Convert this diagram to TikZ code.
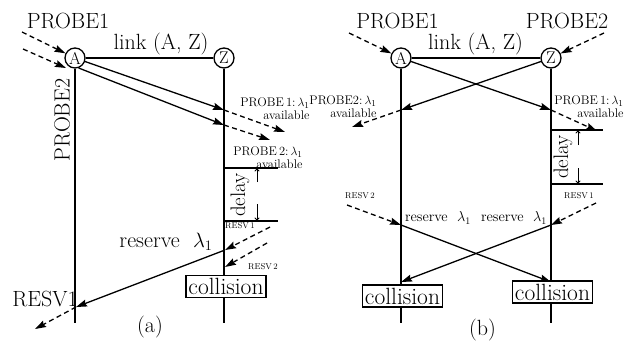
\documentclass[tikz,border=0pt]{standalone}
\usetikzlibrary{arrows.meta}
\begin{document}
\begin{tikzpicture}[x=1pt,y=-1pt,
  ln/.style={line width=1.3pt},
  arr/.style={ln,-{Stealth[length=11pt,width=7pt,inset=1.5pt]}},
  darr/.style={arr,dash pattern=on 5pt off 3.5pt},
  dly/.style={line width=0.9pt,-{To[length=3pt,width=5pt]}},
  stn/.style={circle,draw,line width=1.3pt,minimum size=20pt,inner sep=0pt,fill=white,font=\fontsize{17}{17}\selectfont},
  big/.style={inner sep=0pt,font=\fontsize{22}{24}\selectfont},
  mid/.style={inner sep=0pt,font=\fontsize{14.5}{16}\selectfont},
  sml/.style={inner sep=0pt,align=right,font=\fontsize{12.5}{13}\selectfont},
  tiny/.style={inner sep=0pt,font=\fontsize{8.5}{9}\selectfont},
  colbox/.style={draw,line width=1.3pt,fill=white,inner sep=0pt,minimum height=22pt,text depth=0pt,font=\fontsize{23.5}{25}\selectfont,text width=80pt,align=center},
  dlytxt/.style={inner sep=0pt,rotate=90,font=\fontsize{21}{23}\selectfont}
]
\useasboundingbox (0,0) rectangle (628,341);

% ================= panel (a) =================
\node[stn] (A) at (75,58) {A};
\node[stn] (Z) at (224,58) {Z};
\coordinate (Ab) at (75,323);
\coordinate (Zb) at (224,323);
\draw[ln] (A) -- (Z);
\draw[ln] (A) -- (Ab);
\draw[ln] (Z) -- (Zb);

\node[big] (p1a) at (68,21) {PROBE1};
\node[big,anchor=base] (lka) at (161,49) {link (A, Z)};
\node[big,rotate=90] (p2a) at (62,120) {PROBE2};

\coordinate (ia1) at (22,32);
\coordinate (ia2) at (23,49);
\coordinate (ia2e) at (66,68);
\draw[darr] (ia1) -- (A);
\draw[darr] (ia2) -- (ia2e);

\coordinate (za1) at (224,110);
\coordinate (za1e) at (285,132);
\coordinate (za2) at (224,125);
\coordinate (za2e) at (270,140);
\draw[arr] (A) -- (za1);
\draw[darr] (za1) -- (za1e);
\draw[arr] (A.-70) -- (za2);
\draw[darr] (za2) -- (za2e);

\node[sml] (pa1) at (275,109) {PROBE\,1:\,$\lambda_1$\\available};
\node[sml] (pa2) at (268,158) {PROBE\,2:\,$\lambda_1$\\available};

% delay (a)
\coordinate (da1) at (224,168);
\coordinate (da1e) at (278,168);
\coordinate (da2) at (224,221);
\coordinate (da2e) at (278,221);
\draw[ln] (da1) -- (da1e);
\draw[ln] (da2) -- (da2e);
\coordinate (dau1) at (257,182);
\coordinate (dau2) at (257,168.5);
\coordinate (dad1) at (257,204);
\coordinate (dad2) at (257,220.5);
\draw[dly] (dau1) -- (dau2);
\draw[dly] (dad1) -- (dad2);
\node[dlytxt] (dta) at (240,195) {delay};
\node[tiny] (ra1) at (240,226) {RESV\,1};

% reserve (a)
\coordinate (rs1) at (270,227);
\coordinate (rz1) at (225,250);
\coordinate (ra) at (76,307);
\coordinate (rae) at (35,329);
\draw[darr] (rs1) -- (rz1);
\draw[arr] (rz1) -- (ra);
\draw[darr] (ra) -- (rae);
\coordinate (rs2) at (267,243);
\coordinate (rz2) at (225,267);
\draw[darr] (rs2) -- (rz2);
\node[tiny] (ra2) at (263,267) {RESV\,2};
\node[big] (rva) at (166,242) {reserve\ \ $\lambda_1$};
\node[colbox] (cola) at (226,286.5) {collision};
\node[big] (rsv1) at (45,298.5) {RESV1};
\node[big] (capa) at (150,327) {(a)};

% ================= panel (b) =================
\node[stn] (A2) at (401,58) {A};
\node[stn] (Z2) at (551,58) {Z};
\coordinate (A2b) at (401,323);
\coordinate (Z2b) at (551,323);
\draw[ln] (A2) -- (Z2);
\draw[ln] (A2) -- (A2b);
\draw[ln] (Z2) -- (Z2b);

\node[big] (p1b) at (397.5,21) {PROBE1};
\node[big] (p2b) at (567,21) {PROBE2};
\node[big,anchor=base] (lkb) at (475.5,49) {link (A, Z)};

\coordinate (ib1) at (349,33);
\coordinate (ib2) at (604,33);
\draw[darr] (ib1) -- (A2);
\draw[darr] (ib2) -- (Z2);

\coordinate (zb1) at (551,110);
\coordinate (zb1e) at (597,131);
\coordinate (ab1) at (401,110);
\coordinate (ab1e) at (352,127);
\draw[arr] (A2) -- (zb1);
\draw[darr] (zb1) -- (zb1e);
\draw[arr] (Z2) -- (ab1);
\draw[darr] (ab1) -- (ab1e);

\node[sml] (pb2) at (343,107) {PROBE2:\,$\lambda_1$\\available};
\node[sml] (pb1) at (589,107) {PROBE\,1:\,$\lambda_1$\\available};

% delay (b)
\coordinate (db1) at (551,130);
\coordinate (db1e) at (603,130);
\coordinate (db2) at (551,184);
\coordinate (db2e) at (603,184);
\draw[ln] (db1) -- (db1e);
\draw[ln] (db2) -- (db2e);
\coordinate (dbu1) at (578,145);
\coordinate (dbu2) at (578,130.5);
\coordinate (dbd1) at (578,168);
\coordinate (dbd2) at (578,183.5);
\draw[dly] (dbu1) -- (dbu2);
\draw[dly] (dbd1) -- (dbd2);
\node[dlytxt] (dtb) at (563,157) {delay};
\node[tiny] (rb1) at (579,196) {RESV\,1};
\node[tiny] (rb2) at (360,196) {RESV\,2};

% reserve (b)
\coordinate (sb1) at (596,203);
\coordinate (zr) at (551,225);
\coordinate (ar) at (401,282);
\coordinate (sb2) at (347,205);
\coordinate (ar2) at (401,225);
\coordinate (zr2) at (551,282);
\draw[darr] (sb1) -- (zr);
\draw[arr] (zr) -- (ar);
\draw[darr] (sb2) -- (ar2);
\draw[arr] (ar2) -- (zr2);
\node[mid] (rvb1) at (438,218) {reserve\ \ $\lambda_1$};
\node[mid] (rvb2) at (514,218) {reserve\ \ $\lambda_1$};
\node[colbox] (colb1) at (402.5,296) {collision};
\node[colbox] (colb2) at (552.5,292) {collision};
\node[big] (capb) at (482.5,330) {(b)};
\end{tikzpicture}
\end{document}
